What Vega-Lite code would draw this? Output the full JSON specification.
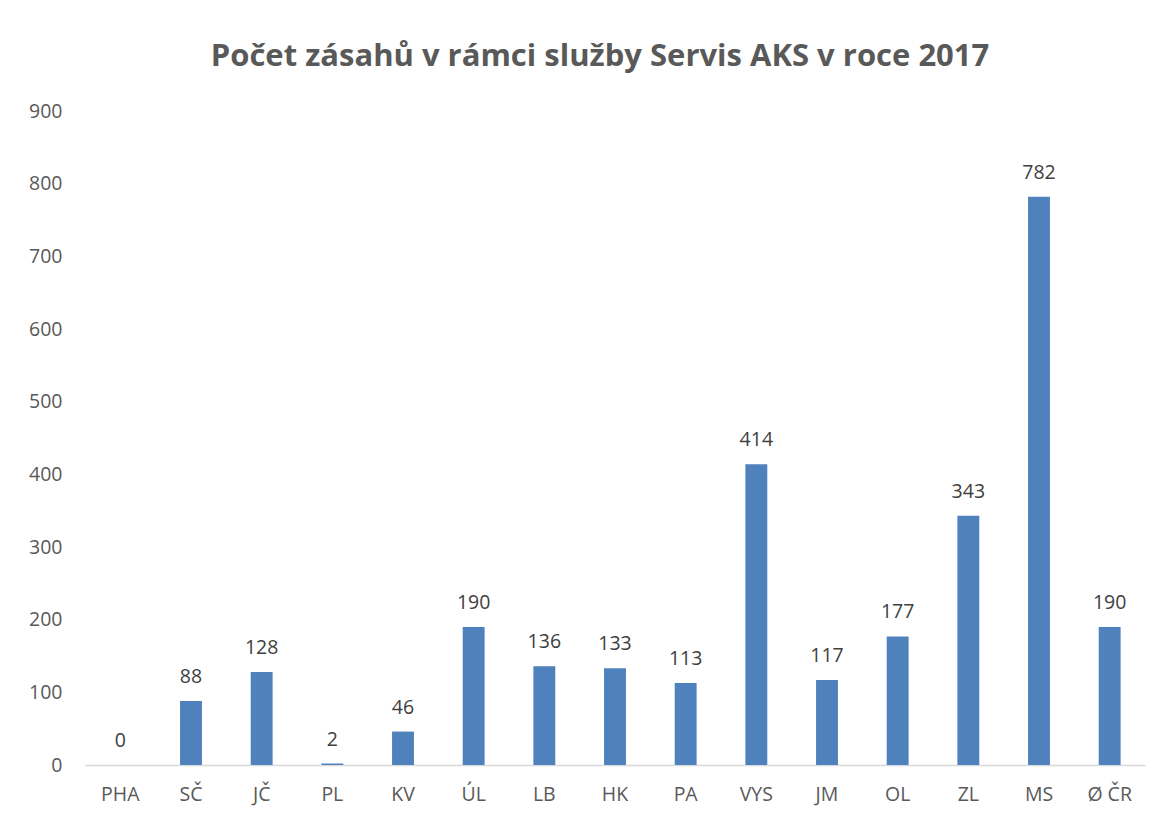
{
  "$schema": "https://vega.github.io/schema/vega-lite/v6.json",
  "autosize": {"type": "none"},
  "padding": {"left": 85, "top": 111, "right": 16, "bottom": 52},
  "width": 1060,
  "height": 654,
  "background": "white",
  "title": {
    "text": "Počet zásahů v rámci služby Servis AKS v roce 2017",
    "font": "Open Sans",
    "fontSize": 31,
    "fontWeight": "bold",
    "color": "#595959",
    "anchor": "middle",
    "frame": "group",
    "dx": -15,
    "offset": 28
  },
  "data": {
    "values": [
      {"kraj": "PHA", "pocet": 0},
      {"kraj": "SČ", "pocet": 88},
      {"kraj": "JČ", "pocet": 128},
      {"kraj": "PL", "pocet": 2},
      {"kraj": "KV", "pocet": 46},
      {"kraj": "ÚL", "pocet": 190},
      {"kraj": "LB", "pocet": 136},
      {"kraj": "HK", "pocet": 133},
      {"kraj": "PA", "pocet": 113},
      {"kraj": "VYS", "pocet": 414},
      {"kraj": "JM", "pocet": 117},
      {"kraj": "OL", "pocet": 177},
      {"kraj": "ZL", "pocet": 343},
      {"kraj": "MS", "pocet": 782},
      {"kraj": "Ø ČR", "pocet": 190}
    ]
  },
  "encoding": {
    "x": {
      "field": "kraj",
      "type": "nominal",
      "sort": null,
      "scale": {"paddingInner": 0.69, "paddingOuter": 0.345},
      "axis": {
        "title": null,
        "labelAngle": 0,
        "labelFont": "Open Sans",
        "labelFontSize": 19.5,
        "labelColor": "#595959",
        "labelPadding": 20,
        "ticks": false,
        "domainColor": "#D9D9D9",
        "domainWidth": 1.5
      }
    },
    "y": {
      "field": "pocet",
      "type": "quantitative",
      "scale": {"domain": [0, 900], "nice": false},
      "axis": {
        "title": null,
        "values": [0, 100, 200, 300, 400, 500, 600, 700, 800, 900],
        "labelFont": "Open Sans",
        "labelFontSize": 19.5,
        "labelColor": "#595959",
        "labelPadding": 23,
        "ticks": false,
        "domain": false,
        "grid": false
      }
    }
  },
  "layer": [
    {
      "mark": {"type": "bar", "color": "#4F81BD"}
    },
    {
      "mark": {
        "type": "text",
        "baseline": "bottom",
        "dy": -14,
        "font": "Open Sans",
        "fontSize": 19.5,
        "color": "#404040"
      },
      "encoding": {"text": {"field": "pocet", "type": "quantitative"}}
    }
  ],
  "config": {"view": {"stroke": null}}
}
